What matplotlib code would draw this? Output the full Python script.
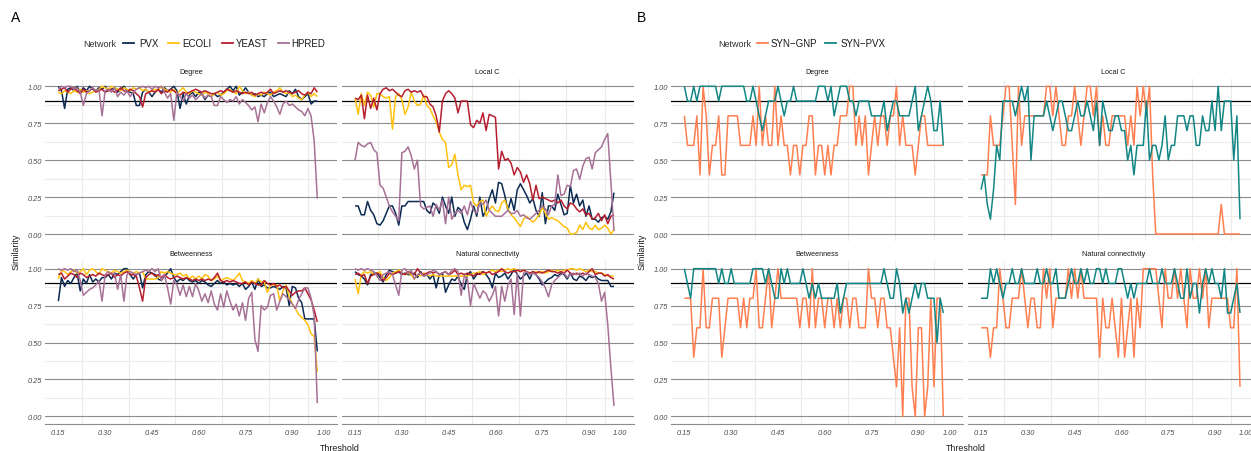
import numpy as np
import matplotlib
matplotlib.use("Agg")
import matplotlib.pyplot as plt

plt.rcParams['font.family'] = ['Liberation Sans', 'DejaVu Sans']

# ---------------- data ----------------
thresholds = np.round(0.15 + 0.01 * np.arange(84), 2)
metrics = ["Degree", "Local C", "Betweenness", "Natural connectivity"]
x_breaks = [0.15, 0.30, 0.45, 0.60, 0.75, 0.90, 1.00]
x_labels = ["0.15", "0.30", "0.45", "0.60", "0.75", "0.90", "1.00"]
y_breaks = [0.0, 0.25, 0.5, 0.75, 1.0]
y_labels = ["0.00", "0.25", "0.50", "0.75", "1.00"]
reference_level = 0.9

networks_a = ["PVX", "ECOLI", "YEAST", "HPRED"]
networks_b = ["SYN\u2212GNP", "SYN\u2212PVX"]

pvx_degree = [1.00,0.97,0.85,0.98,0.99,0.97,1.00,0.96,0.99,0.97,
              1.00,0.98,0.97,0.99,0.98,1.00,0.97,0.98,0.99,0.96,
              0.98,1.00,0.97,0.96,0.95,0.87,0.87,0.96,0.98,0.96,
              0.93,0.96,0.98,0.96,0.99,0.97,0.98,1.00,0.97,0.85,
              0.95,0.88,0.94,0.96,0.93,0.96,0.95,0.91,0.94,0.93,
              0.95,0.93,0.94,0.96,0.98,1.00,0.97,1.00,0.94,0.96,
              0.99,0.96,0.94,0.95,0.93,0.94,0.93,0.95,0.96,0.93,
              0.94,0.95,0.94,0.93,0.97,0.95,0.98,0.93,0.91,0.93,
              0.95,0.88,0.90,0.90]
ecoli_degree = [0.96,0.95,0.97,0.96,0.95,0.97,0.96,0.98,0.96,0.97,
                0.95,0.96,0.97,0.98,1.00,0.99,0.98,1.00,0.99,0.98,
                0.97,0.99,0.98,0.97,0.99,0.98,0.99,0.97,0.98,0.96,
                0.97,0.98,0.97,1.00,0.98,0.97,0.96,0.98,0.95,0.97,
                0.99,0.96,0.95,0.97,0.96,0.95,0.94,0.96,0.95,0.93,
                0.95,0.96,0.94,0.95,0.97,0.98,0.96,0.95,1.00,0.97,
                0.95,0.96,0.94,0.93,0.95,0.94,0.96,0.95,0.94,0.96,
                0.97,0.99,0.96,0.95,0.96,0.93,0.94,0.92,0.91,0.94,
                0.96,0.93,0.95,0.93]
yeast_degree = [0.97,0.98,0.99,0.96,0.98,0.99,0.97,0.95,0.98,0.96,
                0.97,0.99,0.96,0.97,0.98,0.96,0.97,0.98,0.96,0.97,
                0.99,0.97,0.96,0.98,0.97,0.95,0.93,0.86,0.95,0.96,
                0.97,0.96,0.98,0.95,0.97,0.96,0.98,0.97,0.95,0.94,
                0.96,0.95,0.96,0.97,0.98,0.97,0.96,0.97,0.96,0.95,
                0.95,0.96,0.97,0.96,0.98,0.97,0.96,0.97,0.96,0.95,
                0.96,0.95,0.96,0.94,0.95,0.96,0.95,0.96,0.98,0.95,
                0.96,0.97,0.96,0.97,0.96,0.95,0.96,0.97,0.95,0.94,
                0.96,0.95,0.99,0.96]
hpred_degree = [0.98,1.00,0.99,1.00,1.00,0.98,0.99,0.96,0.87,0.95,
                0.97,0.99,0.97,0.98,0.80,0.97,0.98,0.96,0.99,0.93,
                0.96,0.94,0.97,0.93,0.96,0.98,0.99,1.00,0.99,1.00,
                0.98,1.00,0.99,1.00,0.96,0.92,0.95,0.77,0.96,0.93,
                0.90,0.95,0.92,0.94,0.91,0.93,0.95,0.92,0.94,0.93,
                0.87,0.87,0.93,0.91,0.89,0.91,0.90,0.93,0.88,0.91,
                0.89,0.87,0.84,0.86,0.76,0.88,0.82,0.89,0.93,0.90,
                0.86,0.81,0.88,0.90,0.87,0.88,0.86,0.84,0.83,0.80,
                0.85,0.80,0.63,0.24]

pvx_localc = [0.19,0.19,0.13,0.13,0.22,0.16,0.13,0.07,0.06,0.09,
              0.14,0.19,0.19,0.14,0.06,0.19,0.19,0.22,0.22,0.22,
              0.22,0.22,0.22,0.16,0.14,0.21,0.19,0.14,0.25,0.19,
              0.14,0.25,0.12,0.18,0.16,0.08,0.03,0.10,0.19,0.12,
              0.25,0.12,0.16,0.24,0.30,0.21,0.35,0.34,0.26,0.16,
              0.24,0.16,0.30,0.34,0.30,0.26,0.21,0.24,0.16,0.12,
              0.28,0.07,0.19,0.19,0.16,0.27,0.20,0.13,0.14,0.33,
              0.21,0.27,0.19,0.23,0.12,0.19,0.10,0.10,0.08,0.11,
              0.12,0.10,0.15,0.28]
ecoli_localc = [0.92,0.81,0.95,0.87,0.96,0.94,0.86,0.95,0.95,0.93,
                0.92,0.93,0.71,0.93,0.95,0.91,0.81,0.86,0.96,0.90,
                0.87,0.88,0.94,0.87,0.85,0.80,0.76,0.69,0.64,0.62,
                0.45,0.47,0.54,0.40,0.30,0.33,0.32,0.33,0.21,0.19,
                0.22,0.23,0.12,0.16,0.19,0.16,0.15,0.21,0.23,0.17,
                0.13,0.11,0.08,0.05,0.10,0.12,0.10,0.08,0.10,0.13,
                0.18,0.14,0.10,0.11,0.10,0.09,0.07,0.05,0.04,0.00,
                0.00,0.01,0.06,0.03,0.08,0.04,0.03,0.06,0.03,0.04,
                0.06,0.04,0.00,0.03]
yeast_localc = [0.92,0.91,0.94,0.78,0.94,0.85,0.92,0.84,0.95,0.98,
                0.99,0.97,0.98,0.96,0.94,0.93,0.97,0.98,0.96,0.97,
                0.96,0.97,0.93,0.93,0.88,0.86,0.80,0.69,0.90,0.95,
                0.97,0.95,0.92,0.82,0.90,0.90,0.90,0.74,0.72,0.77,
                0.75,0.82,0.70,0.81,0.80,0.79,0.44,0.56,0.50,0.51,
                0.48,0.40,0.45,0.42,0.35,0.40,0.34,0.23,0.33,0.24,
                0.25,0.24,0.23,0.22,0.23,0.21,0.23,0.19,0.17,0.21,
                0.20,0.17,0.15,0.17,0.13,0.14,0.10,0.11,0.14,0.09,
                0.13,0.07,0.12,0.13]
hpred_localc = [0.50,0.62,0.60,0.59,0.61,0.62,0.57,0.55,0.33,0.31,
                0.25,0.19,0.15,0.12,0.09,0.55,0.56,0.59,0.53,0.44,
                0.50,0.19,0.17,0.18,0.19,0.12,0.20,0.16,0.23,0.07,
                0.25,0.10,0.14,0.16,0.14,0.19,0.13,0.22,0.16,0.14,
                0.21,0.20,0.23,0.16,0.14,0.12,0.12,0.12,0.14,0.16,
                0.14,0.14,0.16,0.12,0.13,0.11,0.10,0.12,0.14,0.16,
                0.19,0.17,0.13,0.19,0.20,0.40,0.26,0.27,0.33,0.32,
                0.43,0.44,0.37,0.46,0.51,0.52,0.44,0.55,0.57,0.59,
                0.64,0.68,0.35,0.02]

pvx_betw = [0.78,0.94,0.88,0.92,0.90,0.94,0.97,0.85,0.93,0.90,
            0.96,0.91,0.93,0.91,0.94,0.94,0.96,0.93,0.97,0.96,
            0.98,1.00,1.00,0.96,0.93,0.96,0.97,0.87,0.96,0.98,
            0.97,0.96,0.93,0.92,0.95,0.97,1.00,0.94,0.91,0.93,
            0.92,0.94,0.92,0.91,0.92,0.90,0.92,0.91,0.89,0.88,
            0.90,0.92,0.90,0.91,0.89,0.90,0.89,0.90,0.88,0.90,
            0.86,0.88,0.91,0.86,0.93,0.88,0.89,0.87,0.87,0.88,
            0.87,0.86,0.88,0.87,0.75,0.88,0.87,0.80,0.77,0.66,
            0.66,0.66,0.66,0.44]
ecoli_betw = [0.93,0.99,0.98,0.96,0.98,0.99,0.97,0.98,1.00,0.96,
              0.99,1.00,0.98,0.96,1.00,0.99,0.98,0.97,0.99,0.98,
              0.97,0.98,0.99,0.98,0.97,0.98,0.97,0.98,0.93,0.93,
              0.93,0.93,0.94,0.98,0.97,0.98,0.97,0.96,0.96,0.97,
              0.95,0.96,0.93,0.95,0.93,0.95,0.93,0.96,0.95,0.92,
              0.93,0.95,0.92,0.93,0.94,0.93,0.92,0.94,0.97,0.92,
              0.91,0.90,0.92,0.90,0.93,0.91,0.91,0.84,0.89,0.89,
              0.89,0.78,0.85,0.89,0.81,0.76,0.73,0.69,0.67,0.65,
              0.62,0.56,0.54,0.30]
yeast_betw = [0.96,0.97,0.93,0.95,0.97,0.96,0.94,0.97,0.96,0.94,
              0.95,0.96,0.95,0.97,0.96,0.95,0.96,0.97,0.94,0.96,
              0.95,0.97,0.98,0.96,0.96,0.95,0.87,0.78,0.94,0.96,
              0.97,0.95,0.96,0.94,0.96,0.94,0.93,0.94,0.95,0.94,
              0.93,0.94,0.93,0.92,0.93,0.92,0.93,0.92,0.93,0.92,
              0.94,0.97,0.92,0.91,0.92,0.91,0.92,0.91,0.90,0.90,
              0.91,0.89,0.91,0.90,0.89,0.89,0.92,0.90,0.89,0.90,
              0.88,0.89,0.87,0.88,0.85,0.82,0.84,0.85,0.85,0.87,
              0.83,0.79,0.72,0.64]
hpred_betw = [1.00,0.99,1.00,0.99,1.00,0.98,0.99,0.92,0.82,0.84,
              0.86,0.87,0.89,0.92,0.78,0.96,0.98,0.96,0.97,0.86,
              0.96,0.78,0.96,0.98,0.97,0.96,0.97,0.98,0.99,0.98,
              1.00,0.98,1.00,0.92,0.96,0.87,0.76,0.92,0.89,0.82,
              0.89,0.81,0.88,0.81,0.90,0.85,0.78,0.83,0.77,0.85,
              0.76,0.72,0.83,0.74,0.85,0.78,0.72,0.76,0.68,0.77,
              0.65,0.80,0.84,0.52,0.44,0.75,0.72,0.74,0.82,0.83,
              0.72,0.78,0.83,0.81,0.79,0.76,0.73,0.79,0.83,0.87,
              0.87,0.80,0.68,0.09]

pvx_nat = [0.98,0.96,0.95,0.93,0.89,0.96,0.97,0.97,0.94,0.91,
           0.96,0.99,0.98,0.97,0.98,0.96,0.97,0.96,0.96,0.97,
           0.94,0.98,0.95,0.96,0.93,0.96,0.87,0.96,0.97,0.84,
           0.89,0.93,0.92,0.95,0.89,0.86,0.96,0.98,0.93,0.96,
           0.97,0.98,0.96,0.93,0.87,0.97,0.94,0.95,0.97,0.93,
           0.96,1.00,0.96,0.93,0.95,0.97,0.93,0.98,0.96,0.93,
           0.89,0.91,0.93,0.94,0.96,0.95,0.97,0.96,0.93,0.97,
           0.93,0.92,0.95,0.94,0.92,0.95,0.94,0.95,0.93,0.92,
           0.92,0.92,0.88,0.88]
ecoli_nat = [0.93,0.83,0.96,0.98,0.97,0.98,0.96,0.97,0.98,0.94,
             0.92,0.94,0.97,0.98,0.99,0.97,0.96,0.97,0.96,0.93,
             0.96,0.95,0.97,0.96,0.95,0.96,0.95,0.95,0.95,0.95,
             0.95,0.95,0.95,0.95,0.95,0.95,0.95,0.96,0.97,0.97,
             0.98,0.96,0.97,0.98,0.99,0.98,0.99,0.98,0.99,1.00,
             0.99,1.00,0.99,0.98,0.99,0.98,0.97,0.97,0.98,0.97,
             0.98,0.97,0.98,0.99,0.98,0.99,0.98,0.99,0.99,1.00,
             1.00,0.99,1.00,0.99,0.98,0.99,0.98,0.98,0.97,0.97,
             0.96,0.95,0.95,0.95]
yeast_nat = [0.96,0.97,0.95,0.96,0.90,0.95,0.96,0.97,0.96,0.92,
             0.94,0.97,0.96,0.97,0.98,0.97,0.96,0.98,0.97,0.96,
             1.00,0.97,0.96,0.97,0.98,0.97,0.98,0.96,0.97,0.98,
             0.96,0.97,0.99,0.96,0.97,0.96,0.97,0.96,0.95,0.97,
             0.96,0.98,0.97,0.98,0.96,0.97,0.98,1.00,0.98,0.97,
             0.98,0.98,0.99,0.98,0.99,0.98,0.97,0.98,0.97,0.98,
             0.97,0.98,0.99,0.98,0.98,0.97,0.98,0.97,0.99,0.97,
             0.96,0.97,0.96,0.97,0.96,0.98,1.00,0.96,0.97,0.97,
             0.95,0.96,0.94,0.93]
hpred_nat = [1.00,0.99,1.00,0.99,1.00,0.99,0.98,0.95,0.92,0.96,
             0.97,0.98,0.96,0.89,0.82,0.99,1.00,0.97,0.99,0.93,
             0.96,0.97,0.95,0.96,0.97,0.99,0.98,0.96,0.97,0.98,
             0.96,0.99,1.00,0.98,0.82,0.95,0.93,0.75,0.90,0.85,
             0.80,0.85,0.83,0.78,0.82,0.88,0.68,0.88,0.78,0.89,
             0.93,0.69,0.97,0.68,0.97,0.98,0.96,0.97,0.96,0.94,
             0.91,0.87,0.81,0.89,0.92,0.94,0.96,0.97,0.94,0.96,
             0.97,0.96,0.97,0.95,0.97,0.96,0.95,0.94,0.90,0.78,
             0.84,0.62,0.33,0.07]

gnp_degree = [0.8,0.6,0.6,0.6,0.8,0.4,1.0,0.8,0.4,0.6,
              0.6,0.8,0.4,0.4,0.8,0.8,0.8,0.8,0.6,0.6,
              0.6,0.6,0.8,0.6,1.0,0.6,0.8,0.6,0.6,1.0,
              0.6,0.8,0.6,0.6,0.4,0.6,0.6,0.4,0.6,0.6,
              0.8,0.8,0.4,0.6,0.6,0.4,0.6,0.4,0.6,0.6,
              0.8,0.8,0.8,1.0,1.0,0.6,0.8,0.6,0.8,0.4,
              0.6,0.8,0.6,0.8,0.8,0.6,0.8,0.8,1.0,0.6,
              0.8,0.6,0.6,0.6,0.4,0.6,0.8,0.8,0.6,0.6,
              0.6,0.6,0.6,0.6]
synpvx_degree = [1.0,0.9,0.9,1.0,0.9,1.0,1.0,1.0,1.0,1.0,
                 1.0,0.9,1.0,1.0,1.0,1.0,1.0,1.0,1.0,1.0,
                 0.9,0.9,1.0,0.9,0.8,0.7,0.8,0.9,0.9,0.9,
                 1.0,0.9,0.8,0.9,0.9,1.0,0.9,0.9,0.9,0.9,
                 0.9,0.9,0.9,1.0,1.0,1.0,0.9,1.0,0.8,0.9,
                 1.0,1.0,1.0,0.9,0.9,0.8,0.9,0.9,0.9,0.9,
                 0.8,0.8,0.8,0.8,0.9,0.7,0.8,0.9,0.9,0.8,
                 0.8,0.8,0.8,0.9,1.0,0.7,0.8,0.9,1.0,0.9,
                 0.7,0.7,0.9,0.6]
gnp_localc = [0.4,0.4,0.4,0.8,0.6,0.6,0.6,0.8,1.0,1.0,
              0.6,0.2,1.0,0.6,0.8,0.8,0.8,0.8,0.8,0.8,
              0.8,1.0,1.0,0.8,1.0,0.8,0.6,0.6,0.8,0.8,
              1.0,0.8,0.6,0.8,1.0,1.0,0.8,1.0,0.6,0.8,
              0.6,0.6,0.8,0.8,0.8,0.8,0.8,0.6,0.8,0.6,
              1.0,0.8,1.0,0.8,1.0,0.4,0.0,0.0,0.0,0.0,
              0.0,0.0,0.0,0.0,0.0,0.0,0.0,0.0,0.0,0.0,
              0.0,0.0,0.0,0.0,0.0,0.0,0.0,0.2,0.0,0.0,
              0.0,0.0,0.0,0.0]
synpvx_localc = [0.3,0.4,0.2,0.1,0.3,0.6,0.5,0.9,0.9,0.9,
                 0.9,0.8,0.9,1.0,0.9,1.0,0.5,0.8,0.8,0.8,
                 0.8,0.9,0.8,0.7,0.8,0.9,0.9,0.8,0.7,0.7,
                 0.8,0.9,0.8,0.8,0.9,0.8,0.7,0.9,0.6,0.9,
                 0.8,0.7,0.7,0.8,0.8,0.7,0.7,0.5,0.6,0.4,
                 0.6,0.6,0.6,0.9,0.5,0.6,0.6,0.5,0.6,0.8,
                 0.5,0.6,0.6,0.8,0.8,0.8,0.7,0.8,0.8,0.6,
                 0.6,0.8,0.7,0.7,0.9,0.7,1.0,0.7,0.9,0.9,
                 0.9,0.5,0.8,0.1]
gnp_betw = [0.8,0.8,0.8,0.4,0.6,0.6,1.0,0.6,0.6,0.8,
            0.8,0.8,0.4,0.6,0.8,0.8,0.8,0.8,0.6,0.8,
            0.6,0.8,0.8,1.0,0.6,0.6,0.8,1.0,0.6,0.8,
            1.0,0.8,0.8,0.8,0.8,0.8,0.8,0.6,0.8,0.8,
            0.6,1.0,0.6,0.8,0.8,0.6,0.8,0.8,0.6,0.8,
            0.6,0.8,0.8,0.6,0.8,0.8,0.6,0.6,0.6,1.0,
            0.8,0.8,0.6,0.8,0.8,0.6,0.6,0.4,0.2,0.6,
            0.0,0.8,0.8,0.2,0.0,0.6,0.6,0.0,0.2,0.8,
            0.2,0.8,0.8,0.0]
synpvx_betw = [1.0,0.9,0.8,1.0,1.0,1.0,1.0,1.0,1.0,1.0,
               1.0,0.9,1.0,0.9,0.9,1.0,0.9,0.9,0.9,0.9,
               0.9,0.9,1.0,1.0,1.0,1.0,0.9,1.0,0.9,0.8,
               0.8,1.0,0.9,1.0,0.9,0.9,0.9,0.9,1.0,0.9,
               0.8,0.9,0.8,0.9,0.8,0.8,0.8,0.8,0.8,0.9,
               0.7,0.8,0.9,0.9,0.9,0.9,0.9,0.9,0.9,0.9,
               0.9,0.9,0.9,0.9,1.0,0.9,0.8,0.8,1.0,0.9,
               0.7,0.8,0.7,0.8,0.9,0.8,0.9,0.9,0.8,0.8,
               0.8,0.5,0.8,0.7]
gnp_nat = [0.6,0.6,0.6,0.4,0.6,0.6,1.0,0.8,0.6,0.6,
           0.8,0.8,0.8,1.0,0.8,0.6,0.8,0.8,0.6,0.6,
           1.0,0.8,1.0,0.6,0.8,0.8,0.8,0.8,1.0,0.8,
           1.0,0.8,1.0,0.8,0.8,0.8,0.8,0.8,0.4,0.8,
           0.6,0.6,0.8,0.6,0.4,0.8,0.4,0.6,0.8,0.4,
           0.8,0.6,1.0,1.0,1.0,1.0,1.0,0.8,0.6,1.0,
           0.8,0.8,1.0,0.8,1.0,0.8,0.6,1.0,0.8,0.8,
           1.0,0.8,1.0,0.6,0.8,0.8,0.8,0.8,0.8,0.8,
           0.6,0.6,1.0,0.2]
synpvx_nat = [0.8,0.8,0.8,1.0,0.9,1.0,0.9,0.8,0.9,0.9,
              1.0,0.9,0.9,1.0,0.9,0.9,0.9,0.9,1.0,0.9,
              0.9,1.0,0.9,0.9,1.0,0.8,0.8,0.8,0.9,1.0,
              0.9,0.9,1.0,0.9,1.0,0.9,0.9,1.0,1.0,0.9,
              1.0,0.9,0.9,0.9,1.0,1.0,0.9,0.8,0.9,0.8,
              0.9,0.9,0.9,0.9,1.0,0.9,0.9,0.9,1.0,0.9,
              0.9,0.9,1.0,0.9,0.8,0.8,1.0,0.8,0.9,0.9,
              0.7,0.9,1.0,0.9,1.0,0.9,0.9,0.8,1.0,0.7,
              0.7,0.8,0.9,0.7]

data_a = {
    "PVX":   [pvx_degree, pvx_localc, pvx_betw, pvx_nat],
    "ECOLI": [ecoli_degree, ecoli_localc, ecoli_betw, ecoli_nat],
    "YEAST": [yeast_degree, yeast_localc, yeast_betw, yeast_nat],
    "HPRED": [hpred_degree, hpred_localc, hpred_betw, hpred_nat],
}
data_b = {
    networks_b[0]: [gnp_degree, gnp_localc, gnp_betw, gnp_nat],
    networks_b[1]: [synpvx_degree, synpvx_localc, synpvx_betw, synpvx_nat],
}

colors = {
    "PVX": "#0B2A52", "ECOLI": "#FFC20E", "YEAST": "#B61E2E", "HPRED": "#A77196",
    networks_b[0]: "#FF7F50", networks_b[1]: "#128684",
}

# ---------------- figure ----------------
W, H = 1251, 452
fig = plt.figure(figsize=(W / 100, H / 100), dpi=100)
FONT_TICK = 5.3
TICK_COL = "#4d4d4d"
MAJOR_COL = "#8c8c8c"
MINOR_COL = "#ebebeb"
minor_x = [0.225, 0.375, 0.525, 0.675, 0.825, 0.95]
minor_y = [0.125, 0.375, 0.625, 0.875]


def px_axes(left, top, width, height):
    return fig.add_axes([left / W, 1 - (top + height) / H, width / W, height / H])


FACET_W = 291.7
FACET_H = 162.5
COL_LEFT = [45.1, 341.8]
ROW_TOP = [79.9, 262.3]
STRIP_Y = [72.7, 254.3]


def draw_panel(ox, data, names, tag, legend_keys, legend_title_x):
    for k, metric in enumerate(metrics):
        r, c = divmod(k, 2)
        left = ox + COL_LEFT[c]
        top = ROW_TOP[r]
        ax = px_axes(left, top, FACET_W, FACET_H)
        ax.set_xlim(0.1075, 1.0425)
        ax.set_ylim(-0.05, 1.05)
        ax.set_facecolor("white")
        for s in ax.spines.values():
            s.set_visible(False)
        for v in minor_x:
            ax.axvline(v, color=MINOR_COL, lw=0.8, zorder=0)
        for v in minor_y:
            ax.axhline(v, color=MINOR_COL, lw=0.8, zorder=0)
        for v in y_breaks:
            ax.axhline(v, color=MAJOR_COL, lw=0.8, zorder=1)
        ax.axhline(reference_level, color="black", lw=0.9, zorder=2)
        for name in names:
            ax.plot(thresholds, data[name][k], color=colors[name], lw=1.1,
                    zorder=3, solid_joinstyle="round", solid_capstyle="butt")
        ax.set_xticks(x_breaks)
        ax.set_yticks(y_breaks)
        ax.tick_params(length=0)
        if r == 1:
            ax.set_xticklabels(x_labels, fontstyle="italic", fontsize=FONT_TICK, color=TICK_COL)
            ax.tick_params(axis="x", pad=3.5)
            ax.spines["bottom"].set_visible(True)
            ax.spines["bottom"].set_color(MAJOR_COL)
            ax.spines["bottom"].set_linewidth(0.8)
        else:
            ax.set_xticklabels([])
        if c == 0:
            ax.set_yticklabels(y_labels, fontstyle="italic", fontsize=FONT_TICK, color=TICK_COL)
            ax.tick_params(axis="y", pad=2.2)
        else:
            ax.set_yticklabels([])
        fig.text((left + FACET_W / 2) / W, 1 - STRIP_Y[r] / H, metric,
                 ha="center", va="center", fontsize=5.2, color="#1a1a1a")

    # axis titles and tag
    fig.text((ox + 339.3) / W, 1 - 448.3 / H, "Threshold", ha="center", va="center",
             fontsize=6.4, color="#1a1a1a")
    fig.text((ox + 16.3) / W, 1 - 252 / H, "Similarity", ha="center", va="center",
             rotation=90, fontsize=6.4, color="#1a1a1a")
    fig.text((ox + 16.0) / W, 1 - 18.3 / H, tag, ha="center", va="center",
             fontsize=10, color="black")

    # legend (title left, keys inline)
    ly = 1 - 44.3 / H
    fig.text(legend_title_x / W, ly, "Network", ha="left", va="center",
             fontsize=6.5, color="#333333")
    for name, kc, tx in legend_keys:
        fig.add_artist(plt.Line2D([(kc - 5.5) / W, (kc + 5.5) / W], [ly, ly],
                                  transform=fig.transFigure, color=colors[name], lw=1.3))
        fig.text(tx / W, ly, name, ha="left", va="center", fontsize=7, color="#1a1a1a")


draw_panel(0, data_a, networks_a, "A",
           [("PVX", 128, 139.6), ("ECOLI", 173.5, 182.4),
            ("YEAST", 227.5, 235.5), ("HPRED", 283.5, 291.0)], 83.7)
draw_panel(626, data_b, networks_b, "B",
           [(networks_b[0], 762.6, 770.6), (networks_b[1], 830.0, 841.0)], 718.0)

fig.savefig("out.png", dpi=100, facecolor="white")
